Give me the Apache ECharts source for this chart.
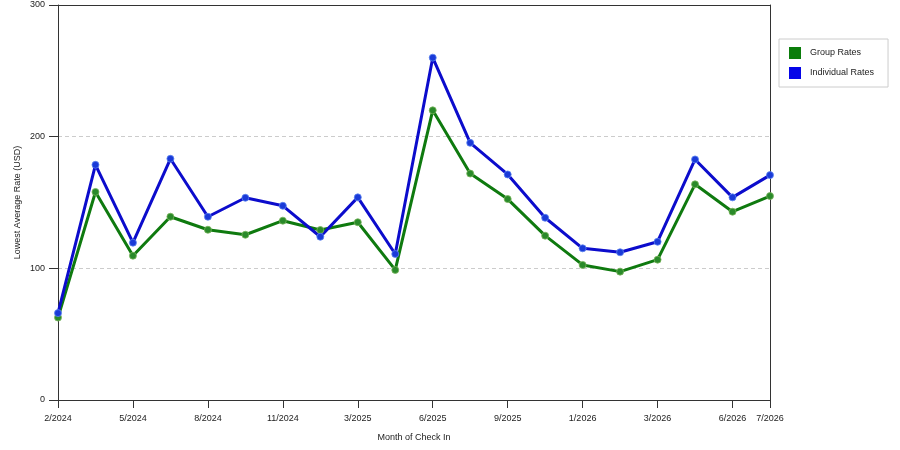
<!DOCTYPE html>
<html>
<head>
<meta charset="utf-8">
<script src="https://cdn.jsdelivr.net/npm/echarts@6/dist/echarts.min.js"></script>
<style>
  html, body { margin: 0; padding: 0; background: #fff; }
  #chart { width: 900px; height: 450px; }
</style>
</head>
<body>
<div id="chart"></div>
<script>
var months = ['2/2024', '3/2024', '5/2024', '6/2024', '8/2024', '9/2024', '11/2024', '1/2025', '3/2025', '4/2025',
              '6/2025', '7/2025', '9/2025', '11/2025', '1/2026', '2/2026', '3/2026', '4/2026', '6/2026', '7/2026'];
var groupRates = [62.6, 158, 109.6, 139.2, 129.3, 125.5, 136.2, 129.1, 135, 98.8,
                  220, 172, 152.6, 124.8, 102.6, 97.5, 106.6, 163.8, 143, 154.9];
var individualRates = [66, 178.6, 119.5, 183.2, 139.2, 153.6, 147.5, 124, 153.9, 110.9,
                       260, 195.3, 171.3, 138.4, 115.2, 112.2, 120.2, 182.7, 153.9, 170.8];
var yTicks = [0, 100, 200, 300];

var font = 'Liberation Sans, Arial, sans-serif';
function showLabel(i) {
    return i % 2 === 0 || i === months.length - 1;
}

var myChart = echarts.init(document.getElementById('chart'));
myChart.setOption({
    animation: false,
    grid: {
        left: 58,
        right: 130,
        top: 5,
        bottom: 50
    },
    legend: {
        orient: 'vertical',
        left: 779,
        top: 39,
        padding: [8, 14, 8, 10],
        itemGap: 8,
        itemWidth: 12,
        itemHeight: 12,
        icon: 'rect',
        borderColor: '#ccc',
        borderWidth: 1,
        itemStyle: {borderWidth: 0},
        textStyle: {fontSize: 9, fontFamily: font, color: '#222', padding: [0, 0, 0, 4]},
        data: [
            {name: 'Group Rates', itemStyle: {color: '#0b7d0b', borderWidth: 0}},
            {name: 'Individual Rates', itemStyle: {color: '#0505e8', borderWidth: 0}}
        ]
    },
    xAxis: [
        {
            type: 'category',
            boundaryGap: false,
            data: months,
            name: 'Month of Check In',
            nameLocation: 'middle',
            nameGap: 33,
            nameMoveOverlap: false,
            nameTextStyle: {fontSize: 9, fontFamily: font, color: '#222'},
            axisLine: {lineStyle: {color: '#333'}},
            axisTick: {length: 8, interval: showLabel, lineStyle: {color: '#333'}},
            axisLabel: {interval: showLabel, fontSize: 9, fontFamily: font, color: '#222', margin: 14},
            splitLine: {show: false}
        },
        {
            type: 'category',
            position: 'top',
            boundaryGap: false,
            data: months,
            axisLine: {show: true, onZero: false, lineStyle: {color: '#333'}},
            axisTick: {show: false},
            axisLabel: {show: false},
            splitLine: {show: false}
        }
    ],
    yAxis: [
        {
            type: 'value',
            min: yTicks[0],
            max: yTicks[yTicks.length - 1],
            interval: 100,
            name: 'Lowest Average Rate (USD)',
            nameLocation: 'middle',
            nameGap: 36,
            nameMoveOverlap: false,
            nameTextStyle: {fontSize: 9, fontFamily: font, color: '#222'},
            axisLine: {show: true, lineStyle: {color: '#333'}},
            axisTick: {show: true, length: 9, lineStyle: {color: '#333'}},
            axisLabel: {fontSize: 9, fontFamily: font, color: '#222', margin: 13},
            splitLine: {show: true, lineStyle: {color: '#ccc', type: [4, 3]}}
        },
        {
            type: 'value',
            position: 'right',
            min: yTicks[0],
            max: yTicks[yTicks.length - 1],
            interval: 100,
            axisLine: {show: true, onZero: false, lineStyle: {color: '#333'}},
            axisTick: {show: false},
            axisLabel: {show: false},
            splitLine: {show: false}
        }
    ],
    series: [
        {
            name: 'Group Rates',
            type: 'line',
            data: groupRates,
            symbol: 'circle',
            symbolSize: 7,
            lineStyle: {width: 3, color: '#0f7a0f'},
            itemStyle: {color: '#2a8a2a', borderColor: 'rgba(120,180,90,0.8)', borderWidth: 1}
        },
        {
            name: 'Individual Rates',
            type: 'line',
            data: individualRates,
            symbol: 'circle',
            symbolSize: 7,
            lineStyle: {width: 3, color: '#0c0ccc'},
            itemStyle: {color: '#1a3ad8', borderColor: 'rgba(90,130,240,0.8)', borderWidth: 1}
        }
    ]
});
</script>
</body>
</html>
